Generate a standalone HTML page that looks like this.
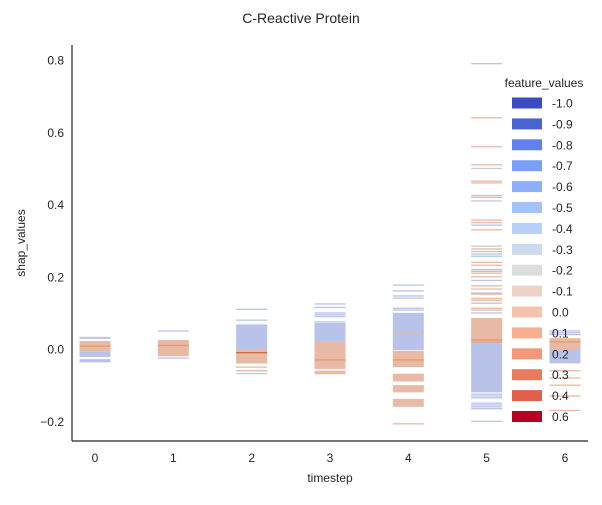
<!DOCTYPE html>
<html><head><meta charset="utf-8"><style>
body{margin:0;background:#fff;font-family:"Liberation Sans",sans-serif;}
text{font-family:"Liberation Sans",sans-serif;fill:#262626;}
</style></head><body>
<svg id="c" width="602" height="500" xmlns="http://www.w3.org/2000/svg"></svg>
<script>
const timesteps=[0,1,2,3,4,5,6];
const yTicks=[-0.2,0,0.2,0.4,0.6,0.8];
const yTickLabels=["\u22120.2","0.0","0.2","0.4","0.6","0.8"];
// blocks: [timestep, hi, lo, colour key]
const blocks=[
[0,0.022,-0.006,"o"],[0,-0.006,-0.022,"b"],[0,-0.028,-0.037,"b"],
[1,0.025,-0.02,"o"],
[2,0.068,0.0,"b"],[2,0.0,-0.04,"o"],
[3,0.072,0.022,"b"],[3,0.022,-0.055,"o"],[3,-0.06,-0.07,"o"],
[4,0.1,-0.003,"b"],[4,-0.005,-0.05,"o"],[4,-0.072,-0.09,"o"],[4,-0.1,-0.12,"o"],[4,-0.138,-0.16,"o"],
[5,0.086,0.022,"o"],[5,0.018,-0.12,"b"],
[6,0.03,0.0,"o"],[6,0.0,-0.04,"b"]
];
// stripes: [timestep, value, colour key]
const stripes=[
[0,0.032,"o"],[0,0.03,"b"],[0,0.008,"d"],
[1,0.05,"b"],[1,-0.025,"b"],[1,0.01,"d"],
[2,0.11,"b"],[2,0.08,"b"],[2,-0.01,"D"],[2,-0.05,"o"],[2,-0.06,"o"],[2,-0.068,"g"],
[3,0.125,"b"],[3,0.115,"b"],[3,0.1,"b"],[3,0.095,"b"],[3,0.09,"b"],[3,0.075,"b"],[3,-0.03,"d"],
[4,0.177,"b"],[4,0.161,"b"],[4,0.147,"b"],[4,0.141,"b"],[4,0.113,"b"],[4,0.108,"b"],[4,0.047,"o"],[4,-0.07,"o"],[4,-0.207,"o"],[4,-0.03,"d"],
[5,0.79,"b"],[5,0.64,"o"],[5,0.56,"o"],[5,0.51,"o"],[5,0.50,"g"],[5,0.465,"o"],[5,0.46,"o"],[5,0.425,"o"],[5,0.42,"o"],[5,0.41,"g"],
[5,0.357,"o"],[5,0.35,"o"],[5,0.343,"b"],[5,0.33,"o"],[5,0.285,"g"],[5,0.277,"o"],[5,0.27,"o"],[5,0.263,"b"],[5,0.257,"b"],[5,0.24,"o"],[5,0.232,"o"],
[5,0.22,"o"],[5,0.215,"b"],[5,0.21,"o"],[5,0.2,"o"],[5,0.19,"b"],[5,0.175,"o"],[5,0.166,"o"],[5,0.155,"b"],[5,0.152,"o"],[5,0.14,"o"],[5,0.135,"o"],[5,0.127,"b"],[5,0.113,"o"],[5,0.108,"o"],[5,0.1,"b"],
[5,0.02,"d"],[5,0.025,"d"],[5,-0.125,"b"],[5,-0.13,"b"],[5,-0.135,"b"],[5,-0.15,"b"],[5,-0.155,"b"],[5,-0.16,"b"],[5,-0.165,"b"],[5,-0.2,"b"],
[6,0.05,"b"],[6,0.045,"b"],[6,0.04,"b"],[6,0.02,"d"],[6,-0.06,"o"],[6,-0.08,"o"],[6,-0.1,"o"],[6,-0.13,"o"],[6,-0.17,"o"]
];
const legendLabels=["-1.0","-0.9","-0.8","-0.7","-0.6","-0.5","-0.4","-0.3","-0.2","-0.1","0.0","0.1","0.2","0.3","0.4","0.6"];
const legendColors=["#3b4cc0","#4a63d3","#6282ea","#7b9ff9","#8db0fe","#a3c2fe","#b8d0f9","#cdd9ec","#dddddd","#ecd3c5","#f5c4ac","#f7ad90","#f39878","#e97a5f","#de604d","#b40426"];
const palette={o:"#e8b9a4",b:"#b9c3ea",d:"#e79a6a",D:"#c8703f",g:"#c9c9d6"};
const NS="http://www.w3.org/2000/svg",svg=document.getElementById("c");
const X=t=>95+t*78.33, Y=v=>349-v*361.25, W=31;
function mk(tag,a,txt){const el=document.createElementNS(NS,tag);for(const k in a)el.setAttribute(k,a[k]);if(txt!==undefined)el.textContent=txt;svg.appendChild(el);return el;}
blocks.forEach(b=>{const r=mk("rect",{x:X(b[0])-W/2,y:Y(b[1]),width:W,height:Y(b[2])-Y(b[1])});
r.style.fill=palette[b[3]];

});
stripes.forEach(s=>{const r=mk("rect",{x:X(s[0])-W/2,y:Y(s[1])-0.6,width:W,height:1.3});
r.style.fill=palette[s[2]];

});
let e;
e=mk("line",{x1:72,y1:45,x2:72,y2:441,stroke:"#262626","stroke-width":1.2});
e=mk("line",{x1:72,y1:441,x2:588,y2:441,stroke:"#262626","stroke-width":1.2});
yTicks.forEach((v,i)=>{e=mk("text",{x:64,y:Y(v)+4.5,"text-anchor":"end","font-size":12},yTickLabels[i]);});
timesteps.forEach(t=>{e=mk("text",{x:X(t),y:462,"text-anchor":"middle","font-size":12},String(t));});
e=mk("text",{x:330,y:482,"text-anchor":"middle","font-size":12},"timestep");
e=mk("text",{x:25,y:243,"text-anchor":"middle","font-size":12,transform:"rotate(-90 25 243)"},"shap_values");
e=mk("text",{x:301,y:23,"text-anchor":"middle","font-size":14},"C-Reactive Protein");
e=mk("text",{x:544,y:87,"text-anchor":"middle","font-size":12},"feature_values");
legendLabels.forEach((l,i)=>{const y=103+i*20.9;
e=mk("rect",{x:512,y:y-5.5,width:30,height:11,fill:legendColors[i]});
e=mk("text",{x:552,y:y+4.5,"font-size":12},l);});
</script>
</body></html>
